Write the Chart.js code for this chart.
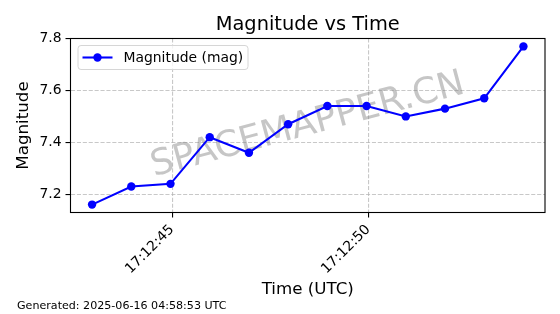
<!DOCTYPE html>
<html>
<head>
<meta charset="utf-8">
<script src="https://cdn.jsdelivr.net/npm/chart.js@4/dist/chart.umd.min.js"></script>
<style>
  html, body { margin: 0; padding: 0; background: #fff; }
  #grafico { display: block; }
</style>
</head>
<body>
<canvas id="grafico" width="560" height="314"></canvas>
<script>
// Dados
const horarios = ['17:12:42.96', '17:12:43.96', '17:12:44.96', '17:12:45.96', '17:12:46.96', '17:12:47.96',
                  '17:12:48.96', '17:12:49.96', '17:12:50.96', '17:12:51.96', '17:12:52.96', '17:12:53.96'];
const magnitudes = [7.16, 7.23, 7.24, 7.42, 7.36, 7.47, 7.54, 7.54, 7.50, 7.53, 7.57, 7.77];
const ticksX = ['17:12:45', '17:12:50'];
const ticksY = [7.2, 7.4, 7.6, 7.8];

const TITULO = 'Magnitude vs Time';
const ROTULO_X = 'Time (UTC)';
const ROTULO_Y = 'Magnitude';
const LEGENDA = 'Magnitude (mag)';
const RODAPE = 'Generated: 2025-06-16 04:58:53 UTC';
const MARCA = 'SPACEMAPPER.CN';
const FONTE = "'DejaVu Sans', sans-serif";
const AZUL = '#0000ff';

function paraSegundos(h) {
    const [hh, mm, ss] = h.split(':');
    return Number(hh) * 3600 + Number(mm) * 60 + Number(ss);
}

function formatarHora(s) {
    const hh = Math.floor(s / 3600);
    const mm = Math.floor((s % 3600) / 60);
    const ss = Math.round(s % 60);
    const p = n => String(n).padStart(2, '0');
    return `${p(hh)}:${p(mm)}:${p(ss)}`;
}

// margem de 5% como no matplotlib
function limites(valores) {
    const min = Math.min(...valores), max = Math.max(...valores);
    const m = (max - min) * 0.05;
    return { min: min - m, max: max + m };
}

const pontos = horarios.map((h, i) => ({ x: paraSegundos(h), y: magnitudes[i] }));
const limX = limites(pontos.map(p => p.x));
const limY = limites(magnitudes);

const decoracao = {
    id: 'decoracao',
    beforeDatasetsDraw(chart) {
        const { ctx, chartArea: a } = chart;
        // marca d'água
        ctx.save();
        ctx.beginPath();
        ctx.rect(a.left, a.top, a.right - a.left, a.bottom - a.top);
        ctx.clip();
        ctx.translate((a.left + a.right) / 2, (a.top + a.bottom) / 2);
        ctx.rotate(-15 * Math.PI / 180);
        ctx.font = `36px ${FONTE}`;
        ctx.fillStyle = 'rgba(128,128,128,0.45)';
        ctx.textAlign = 'center';
        ctx.textBaseline = 'middle';
        ctx.fillText(MARCA, 0, 0);
        ctx.restore();
    },
    afterDatasetsDraw(chart) {
        const { ctx, chartArea: a } = chart;
        ctx.save();
        // moldura
        ctx.strokeStyle = '#000';
        ctx.lineWidth = 1.1;
        ctx.strokeRect(a.left, a.top, a.right - a.left, a.bottom - a.top);

        // legenda
        const lx = a.left + 7.5, ly = a.top + 7, lw = 170, lh = 24;
        ctx.beginPath();
        ctx.roundRect(lx, ly, lw, lh, 3);
        ctx.fillStyle = 'rgba(255,255,255,0.8)';
        ctx.fill();
        ctx.strokeStyle = '#d6d6d6';
        ctx.lineWidth = 1;
        ctx.stroke();
        const cy = ly + lh / 2;
        ctx.strokeStyle = AZUL;
        ctx.lineWidth = 2.08;
        ctx.beginPath();
        ctx.moveTo(lx + 4.5, cy);
        ctx.lineTo(lx + 34.5, cy);
        ctx.stroke();
        ctx.fillStyle = AZUL;
        ctx.beginPath();
        ctx.arc(lx + 19.5, cy, 4.2, 0, Math.PI * 2);
        ctx.fill();
        ctx.fillStyle = '#000';
        ctx.font = `13.9px ${FONTE}`;
        ctx.textAlign = 'left';
        ctx.textBaseline = 'middle';
        ctx.fillText(LEGENDA, lx + 45.5, cy + 0.5);

        // título
        const cx = (a.left + a.right) / 2;
        ctx.font = `19.4px ${FONTE}`;
        ctx.textAlign = 'center';
        ctx.textBaseline = 'alphabetic';
        ctx.fillText(TITULO, cx, a.top - 8.5);

        // rótulos dos eixos
        ctx.font = `16.7px ${FONTE}`;
        ctx.textBaseline = 'middle';
        ctx.fillText(ROTULO_X, cx, 289.5);
        ctx.save();
        ctx.translate(23.5, (a.top + a.bottom) / 2);
        ctx.rotate(-Math.PI / 2);
        ctx.fillText(ROTULO_Y, 0, 0);
        ctx.restore();

        // rodapé
        ctx.font = `11.1px ${FONTE}`;
        ctx.textAlign = 'left';
        ctx.textBaseline = 'alphabetic';
        ctx.fillText(RODAPE, 17, 308.5);
        ctx.restore();
    }
};

const ctx = document.getElementById('grafico').getContext('2d');
const grafico = new Chart(ctx, {
    type: 'line',
    data: {
        datasets: [{
            label: LEGENDA,
            data: pontos,
            borderColor: AZUL,
            backgroundColor: AZUL,
            borderWidth: 2.08,
            pointRadius: 4.2,
            pointBorderWidth: 0,
            pointBackgroundColor: AZUL,
            tension: 0,
            clip: false
        }]
    },
    options: {
        responsive: false,
        animation: false,
        layout: { padding: { left: 0, top: 38.5, right: 15, bottom: 0 } },
        plugins: {
            legend: { display: false },
            title: { display: false },
            tooltip: { enabled: false }
        },
        scales: {
            x: {
                type: 'linear',
                min: limX.min,
                max: limX.max,
                afterBuildTicks: s => { s.ticks = ticksX.map(t => ({ value: paraSegundos(t) })); },
                afterFit: s => { s.height = 101.5; },
                ticks: {
                    autoSkip: false,
                    minRotation: 45,
                    maxRotation: 45,
                    padding: 4,
                    color: '#000',
                    font: { family: FONTE, size: 13.9 },
                    callback: v => formatarHora(v)
                },
                grid: {
                    color: 'rgba(176,176,176,0.7)',
                    lineWidth: 1.1,
                    tickLength: 5,
                    tickColor: '#000',
                    tickWidth: 1.1
                },
                border: { display: false, dash: [4.1, 1.8] }
            },
            y: {
                min: limY.min,
                max: limY.max,
                afterBuildTicks: s => { s.ticks = ticksY.map(v => ({ value: v })); },
                afterFit: s => { s.width = 70.5; },
                ticks: {
                    padding: 4,
                    color: '#000',
                    font: { family: FONTE, size: 13.9 },
                    callback: v => v.toFixed(1)
                },
                grid: {
                    color: 'rgba(176,176,176,0.7)',
                    lineWidth: 1.1,
                    tickLength: 5,
                    tickColor: '#000',
                    tickWidth: 1.1
                },
                border: { display: false, dash: [4.1, 1.8] }
            }
        }
    },
    plugins: [decoracao]
});
</script>
</body>
</html>
